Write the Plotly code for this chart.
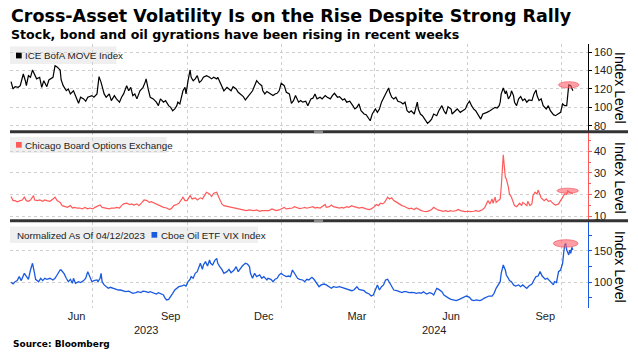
import pandas as pd
import plotly.graph_objects as go

# ---------------- data ----------------
start_date = "2023-04-12"   # day 0 = normalisation date

move_days = [0, 2, 4, 7, 9, 12, 14, 15, 17, 19, 21, 23, 25, 28, 30, 32, 35, 37, 41, 43, 45, 48, 49, 51, 54, 56, 58, 61, 63, 66,
             68, 71, 73, 75, 79, 81, 84, 86, 88, 91, 93, 96, 98, 101, 103, 106, 108, 110, 113, 115, 117, 119, 121, 123, 126, 129,
             131, 132, 134, 136, 139, 142, 144, 146, 149, 151, 154, 156, 158, 160, 162, 163, 165, 167, 168, 170, 171, 173, 175,
             176, 178, 180, 182, 184, 186, 188, 191, 194, 196, 198, 201, 202, 204, 206, 208, 211, 213, 215, 217, 220, 222, 224,
             227, 229, 232, 234, 236, 238, 240, 242, 243, 245, 246, 248, 250, 253, 256, 258, 260, 262, 264, 267, 269, 272, 274,
             276, 278, 281, 283, 285, 288, 290, 293, 295, 297, 299, 302, 304, 307, 309, 312, 314, 316, 319, 321, 324, 326, 328,
             331, 334, 336, 338, 340, 342, 345, 347, 349, 351, 353, 356, 358, 360, 362, 364, 366, 369, 370, 372, 374, 376, 378,
             381, 383, 385, 387, 389, 391, 394, 396, 397, 398, 400, 402, 404, 407, 409, 411, 413, 416, 418, 421, 423, 425, 427,
             430, 431, 434, 436, 439, 441, 444, 446, 448, 450, 452, 454, 457, 459, 461, 463, 465, 468, 471, 473, 475, 477, 478,
             479, 481, 483, 484, 486, 488, 489, 491, 492, 494, 496, 498, 500, 502, 504, 506, 509, 511, 513, 514, 516, 518, 520,
             523, 525, 527, 530, 532, 535, 537, 539, 541, 543, 544, 545, 547, 549]
move_vals = [128, 120, 122.5, 121.8, 123.6, 136.3, 129, 123.6, 134.5, 132.7, 140.7, 135.6, 131, 132.7, 121.8, 129, 122.5, 129.8,
             132.7, 145.4, 144, 140.7, 129.8, 123.6, 118.1, 120, 114.6, 118, 112.8, 104.4, 111, 109.2, 106.6, 111, 112.8, 111,
             114.6, 133.4, 127.2, 114.6, 111, 114.6, 107.3, 112.8, 109.2, 105.6, 111, 114.6, 123.6, 118, 121.8, 112.8, 114.6,
             109.2, 118, 121.8, 127.2, 130.9, 120, 111, 109.2, 105.6, 101.8, 109.2, 105.6, 107.3, 101.8, 100, 96.3, 98.2, 101.8,
             105.6, 103.7, 114.6, 118, 121.8, 114.6, 129, 140.7, 132.7, 129, 131, 134.5, 127.2, 129, 132.7, 134.5, 132.7, 131,
             132.7, 131, 132.7, 127.2, 121.8, 118, 121.8, 120, 118, 122.5, 120, 116.4, 114.6, 111.7, 108, 112.8, 114.6, 118,
             123.6, 129, 126.3, 125.4, 123.6, 118, 114.6, 117.3, 114.6, 112.8, 114.6, 115.3, 118, 126.3, 123.6, 116.4, 114.6,
             104.4, 107.3, 112.8, 105.6, 107.3, 105.6, 106.6, 101.8, 109.2, 110, 114.6, 109.2, 111, 109.2, 112.8, 111, 109.2,
             112.8, 115.3, 111, 111.7, 108, 109.2, 105.6, 106.6, 101.8, 98.2, 100, 103.7, 96.3, 92.7, 92, 89, 85.4, 92.7, 98.2,
             94.5, 98.2, 105.6, 111, 114.6, 121.1, 116.4, 111, 109.2, 111, 106.6, 105.6, 103.7, 105.6, 96.3, 94.5, 96.3, 92.7,
             101.8, 105.6, 98.2, 92.7, 90.9, 87.2, 82.5, 84.6, 87.2, 92.7, 90.9, 96.3, 101.8, 96.3, 92.7, 100.7, 98.2, 92.7, 96.3,
             98.2, 94.5, 96.3, 98.2, 103.7, 106.6, 101.8, 98.2, 96.3, 90.9, 87.2, 92.7, 93.4, 94.5, 96.3, 98.2, 100, 99.3, 101.8,
             105.6, 114.6, 121.1, 114.6, 118, 109.2, 112.8, 118, 112.8, 105.6, 101.8, 109.2, 111.7, 107.3, 109.2, 105.6, 108,
             107.3, 114.6, 118.9, 112.8, 107.3, 109.2, 101.8, 98.2, 101.8, 96.3, 92, 90.9, 92.7, 94.5, 103.7, 101.8, 101.8, 118,
             124.5, 123.6, 118]

vix_days = [0, 2, 4, 6, 9, 11, 13, 15, 17, 19, 22, 23, 26, 28, 31, 33, 35, 38, 41, 43, 45, 48, 50, 53, 55, 58, 60, 62, 65, 67,
            70, 72, 75, 77, 80, 82, 84, 87, 89, 91, 93, 96, 98, 101, 103, 106, 108, 110, 113, 116, 118, 120, 123, 125, 128, 130,
            133, 135, 137, 140, 142, 145, 147, 149, 152, 155, 157, 159, 162, 164, 167, 168, 170, 172, 175, 177, 180, 182, 185,
            187, 189, 191, 194, 196, 198, 201, 203, 206, 208, 211, 213, 215, 218, 220, 223, 225, 228, 230, 233, 235, 237, 240,
            243, 245, 247, 250, 252, 255, 257, 259, 262, 264, 267, 269, 273, 275, 277, 280, 282, 285, 287, 289, 292, 295, 297,
            299, 302, 304, 307, 308, 311, 313, 315, 318, 321, 323, 325, 328, 330, 333, 335, 338, 340, 343, 345, 347, 350, 352,
            355, 357, 359, 361, 363, 365, 368, 370, 372, 374, 377, 379, 382, 384, 386, 389, 391, 394, 396, 399, 401, 403, 406,
            409, 411, 413, 415, 417, 420, 422, 425, 427, 429, 432, 435, 437, 439, 442, 444, 447, 449, 452, 454, 457, 459, 461,
            463, 465, 466, 468, 470, 471, 473, 474, 476, 478, 479, 481, 483, 484, 486, 487, 489, 491, 492, 494, 496, 497, 499,
            500, 502, 504, 505, 507, 509, 510, 512, 514, 515, 517, 518, 521, 523, 525, 527, 530, 532, 535, 537, 539, 541, 543,
            544, 546, 548, 549]
vix_vals = [19.1, 17.2, 17.2, 16.7, 17.2, 17.5, 18.8, 17.2, 16.9, 17.5, 19.5, 17.5, 17.2, 17.5, 16.9, 17.5, 17.2, 16.9, 18.0,
            18.8, 17.2, 16.4, 14.9, 14.6, 14.1, 14.9, 13.8, 14.1, 13.7, 13.8, 13.4, 14.1, 13.4, 13.8, 13.4, 14.1, 14.6, 15.2,
            14.1, 13.8, 13.7, 13.4, 13.8, 13.7, 14.1, 13.8, 14.9, 15.7, 16.0, 15.4, 15.7, 15.2, 15.7, 14.9, 16.4, 17.5, 17.2,
            16.4, 16.7, 16.0, 15.4, 14.9, 14.6, 14.1, 13.8, 13.1, 13.7, 14.9, 15.4, 16.0, 18.0, 18.8, 17.2, 17.2, 19.5, 18.0,
            18.5, 17.5, 18.5, 18.0, 19.5, 21.1, 20.3, 19.1, 20.6, 21.1, 18.8, 15.7, 14.9, 14.6, 14.4, 14.1, 13.8, 13.7, 13.4,
            13.4, 12.9, 12.6, 12.9, 12.6, 12.6, 12.9, 12.3, 12.6, 12.6, 12.9, 12.6, 13.4, 12.9, 12.6, 12.9, 13.4, 14.1, 13.4,
            13.7, 13.8, 14.4, 13.8, 13.5, 13.8, 14.1, 13.7, 14.1, 14.4, 13.8, 14.1, 13.8, 14.6, 15.4, 14.1, 14.4, 15.2, 14.4,
            14.1, 13.8, 14.1, 13.8, 14.4, 14.1, 14.9, 14.4, 14.1, 13.8, 14.1, 13.7, 13.4, 13.1, 13.4, 14.4, 15.4, 14.9, 16.0,
            15.7, 16.4, 18.8, 18.0, 18.5, 17.2, 16.4, 15.7, 14.9, 14.6, 14.1, 13.4, 13.7, 13.1, 13.8, 12.9, 12.6, 12.3, 12.1,
            12.6, 13.1, 14.1, 13.4, 12.9, 12.6, 12.3, 12.6, 12.1, 12.6, 12.3, 12.6, 13.1, 12.6, 12.3, 12.1, 12.3, 12.1, 12.3,
            12.6, 12.3, 12.6, 13.1, 14.1, 16.4, 17.2, 15.7, 18.0, 16.0, 18.8, 16.4, 17.2, 18.0, 23.4, 38.4, 28.0, 27.2, 23.4,
            20.3, 18.8, 16.4, 14.9, 14.4, 15.7, 16.0, 14.9, 16.4, 15.7, 14.9, 16.9, 14.9, 15.7, 19.5, 21.1, 20.3, 22.1, 19.5,
            18.5, 17.2, 18.0, 16.9, 17.2, 15.7, 15.2, 15.7, 17.2, 18.8, 20.3, 20.0, 21.8, 21.1, 20.6, 20.3]

ovx_days = [0, 2, 4, 6, 8, 10, 13, 15, 17, 19, 21, 23, 24, 27, 29, 31, 33, 35, 38, 41, 43, 45, 48, 49, 52, 54, 56, 58, 60, 61,
            63, 66, 68, 71, 73, 75, 77, 79, 81, 84, 85, 87, 88, 89, 91, 93, 95, 97, 100, 102, 105, 107, 110, 112, 115, 117, 119,
            122, 124, 127, 129, 132, 134, 136, 139, 142, 144, 146, 149, 150, 152, 154, 156, 158, 160, 162, 164, 167, 169, 171,
            173, 175, 176, 178, 180, 182, 184, 185, 187, 188, 190, 192, 194, 195, 197, 199, 201, 202, 204, 206, 208, 211, 213,
            215, 218, 220, 222, 224, 226, 229, 231, 233, 234, 236, 238, 240, 243, 245, 247, 250, 251, 254, 256, 258, 260, 262,
            264, 266, 269, 271, 273, 275, 277, 280, 282, 285, 287, 289, 291, 294, 296, 299, 301, 303, 306, 308, 311, 313, 315,
            318, 321, 323, 325, 328, 330, 333, 335, 337, 338, 340, 343, 345, 347, 350, 352, 354, 356, 358, 360, 362, 364, 366,
            368, 370, 372, 374, 377, 379, 382, 384, 386, 389, 391, 394, 396, 399, 401, 403, 406, 409, 411, 413, 415, 416, 418,
            421, 423, 426, 428, 430, 433, 435, 438, 440, 443, 445, 448, 450, 452, 455, 458, 460, 462, 465, 467, 470, 472, 474,
            476, 478, 479, 481, 483, 484, 486, 487, 489, 491, 493, 496, 498, 500, 502, 504, 506, 509, 511, 513, 515, 517, 519,
            522, 524, 526, 528, 530, 531, 533, 535, 537, 539, 540, 541, 542, 543, 545, 546, 547, 548, 549]
ovx_vals = [100, 97.6, 101, 102.7, 109, 102.7, 114.3, 110, 104.8, 119.6, 130.3, 114.3, 104.8, 101, 106.4, 102.7, 106.4, 104.8,
            106.4, 103.7, 106.4, 111.7, 119.6, 119.6, 113.3, 106.4, 101, 104.8, 98.4, 106.4, 98.4, 101, 99.5, 102.7, 106.4, 117,
            109, 101, 102.7, 103.7, 101, 106.4, 114.3, 101, 95.8, 93, 90.4, 92, 90.4, 88.7, 87.7, 87.7, 86.6, 85, 86, 84, 82.4,
            83.5, 85, 83.5, 86, 85, 83.5, 85, 83.5, 81.3, 83.5, 82.4, 79.7, 76, 71.8, 72.8, 77, 82.4, 87.7, 90.4, 93, 94.1, 95.8,
            94.1, 101, 104.8, 109, 106.4, 114.3, 117, 125, 130.3, 120.7, 127.6, 133, 126, 135.6, 130.3, 127.6, 134.6, 138.2,
            130.3, 125, 120.7, 114.3, 117, 120.7, 115.4, 119.6, 125, 117, 122.3, 126, 130.3, 129.2, 125, 114.3, 106.4, 114.3,
            109, 111.7, 106.4, 109, 103.7, 106.4, 104.8, 101, 104.8, 106.4, 111.7, 114.3, 111.7, 109, 110, 109, 119.6, 114.3,
            106.4, 104.8, 103.7, 101, 104.8, 103.7, 108, 104.8, 98.4, 93, 95.8, 97.2, 95.8, 93, 90.4, 93, 92, 93, 92, 90.4, 88.7,
            87.7, 86.6, 87.7, 90.4, 93, 88.7, 87.7, 86.6, 83.5, 81.3, 78.1, 79.7, 87.7, 95.8, 87.7, 93, 95.8, 103.7, 104.8, 98.4,
            93, 87.7, 86.6, 85, 83.5, 85, 85, 83.5, 84, 83.5, 82.4, 83.5, 82.4, 85, 81.3, 83.5, 82.4, 79.7, 87.7, 90.4, 88.7, 85,
            79.7, 76, 74.4, 72.8, 71.8, 70.7, 72.8, 74.4, 76, 78.1, 76, 71.8, 70.7, 71.8, 70.7, 71.8, 74.4, 77, 78.1, 78.1, 82.4,
            90.4, 95.8, 101, 114.3, 127.6, 119.6, 111.7, 106.4, 102.7, 101, 95.8, 94.1, 95.8, 93, 95.8, 93, 90.4, 94.1, 97.2,
            103.7, 109, 110, 117, 110, 104.8, 106.4, 103.7, 99.5, 95.8, 101, 99.5, 117, 119.6, 130.3, 146.3, 159.6, 162, 151.5,
            143.6, 151.5, 146.3, 155.9, 151.5]

month_ticks = ["2023-06-15", "2023-09-15", "2023-12-15", "2024-03-15", "2024-06-15", "2024-09-15"]
month_labels = ["Jun", "Sep", "Dec", "Mar", "Jun", "Sep"]
quarter_lines = ["2023-07-01", "2023-10-01", "2024-01-01", "2024-04-01", "2024-07-01", "2024-10-01"]
year_labels = ["2023", "2024"]

move_ticks = [80, 100, 120, 140, 160]
vix_ticks = [10, 20, 30, 40]
ovx_ticks = [100, 150]

title = "Cross-Asset Volatility Is on the Rise Despite Strong Rally"
subtitle = "Stock, bond and oil gyrations have been rising in recent weeks"
source = "Source: Bloomberg"

# ---------------- helpers ----------------
W, H = 638, 357
def px(v):
    return v / W
def py(v):
    return 1 - v / H

t0 = pd.Timestamp(start_date)
def to_dates(days):
    return [t0 + pd.Timedelta(days=d) for d in days]

x_range = [pd.Timestamp("2023-04-11"), pd.Timestamp("2024-10-26 12:00")]
x_dom = [px(10), px(587.7)]

BLACK = "#000000"
RED = "#ff5a5a"
BLUE = "#1a5ae0"
GRID = "#cfcfcf"
TXT = "#222222"
FONT = "Liberation Sans"

fig = go.Figure()
fig.add_trace(go.Scatter(x=to_dates(move_days), y=move_vals, mode="lines",
                         line=dict(color=BLACK, width=1.2), xaxis="x", yaxis="y", showlegend=False))
fig.add_trace(go.Scatter(x=to_dates(vix_days), y=vix_vals, mode="lines",
                         line=dict(color=RED, width=1.2), xaxis="x2", yaxis="y2", showlegend=False))
fig.add_trace(go.Scatter(x=to_dates(ovx_days), y=ovx_vals, mode="lines",
                         line=dict(color=BLUE, width=1.3), xaxis="x3", yaxis="y3", showlegend=False))

def xaxis(anchor, labels):
    d = dict(domain=x_dom, range=x_range, anchor=anchor, type="date",
             tickmode="array", tickvals=month_ticks, ticktext=month_labels,
             showticklabels=labels, ticks="", showgrid=False, zeroline=False, showline=False,
             tickfont=dict(family=FONT, size=11, color=TXT),
             minor=dict(tickmode="array", tickvals=quarter_lines, showgrid=True,
                        gridcolor=GRID, griddash="dot", gridwidth=1, ticks=""))
    if anchor != "y":
        d["matches"] = "x"
    return d

def yaxis(anchor, dom, rng, ticks, color, minor=None):
    d = dict(domain=dom, range=rng, anchor=anchor, side="right",
             tickmode="array", tickvals=ticks, showgrid=True, gridcolor=GRID, griddash="dot",
             zeroline=False, showline=True, linecolor=color, linewidth=1,
             ticks="outside", ticklen=3, tickcolor=color,
             tickfont=dict(family=FONT, size=11, color=TXT))
    if minor:
        d["minor"] = minor
    return d

fig.update_layout(
    width=W, height=H, autosize=False,
    margin=dict(l=0, r=0, t=0, b=0),
    paper_bgcolor="white", plot_bgcolor="white",
    xaxis=xaxis("y", False),
    xaxis2=xaxis("y2", False),
    xaxis3=xaxis("y3", True),
    yaxis=yaxis("x", [py(131), py(44)], [74.2, 169.0], move_ticks, BLACK),
    yaxis2=yaxis("x2", [py(221), py(132)], [7.8, 48.9], vix_ticks, RED,
                 minor=dict(dtick=5, tick0=0, ticks="outside", ticklen=2, tickcolor=RED, showgrid=False)),
    yaxis3=yaxis("x3", [py(308), py(222)], [59.0, 196.2], ovx_ticks, BLUE,
                 minor=dict(dtick=25, tick0=0, ticks="outside", ticklen=3, tickcolor=BLUE, showgrid=False)),
)

shapes = []
# thick separators between panels
for yy in (131.7, 220.7):
    shapes.append(dict(type="line", xref="paper", yref="paper", x0=px(10), x1=px(628), y0=py(yy), y1=py(yy),
                       line=dict(color="#333333", width=3)))
    shapes.append(dict(type="line", xref="paper", yref="paper", x0=px(314), x1=px(323), y0=py(yy), y1=py(yy),
                       line=dict(color="#8a8a8a", width=3)))

# legend boxes
legend_boxes = [(46.5, 64, 116.5), (137, 153, 166.7), (226.5, 243, 258)]
for (y0, y1, x1) in legend_boxes:
    shapes.append(dict(type="rect", xref="paper", yref="paper", x0=px(10), x1=px(x1), y0=py(y1), y1=py(y0),
                       fillcolor="#efefef", line=dict(width=0), layer="below"))
squares = [(16, 52.7, BLACK), (16, 142, RED), (151.5, 232, BLUE)]
for (sx, sy, c) in squares:
    shapes.append(dict(type="rect", xref="paper", yref="paper", x0=px(sx), x1=px(sx + 5.7), y0=py(sy + 5.7), y1=py(sy),
                       fillcolor=c, line=dict(width=0)))

# highlight ellipses around the latest peak of each series
def peak(days, vals, window=12):
    last = days[-1]
    cand = [(v, d) for d, v in zip(days, vals) if d >= last - window]
    v, d = max(cand)
    return d, v

for (days, vals, xa, ya, half_d, half_v) in [(move_days, move_vals, "x", "y", 10, 3.4),
                                            (vix_days, vix_vals, "x2", "y2", 10.5, 1.15),
                                            (ovx_days, ovx_vals, "x3", "y3", 12, 6.0)]:
    d, v = peak(days, vals)
    c = t0 + pd.Timedelta(days=d)
    shapes.append(dict(type="circle", xref=xa, yref=ya,
                       x0=c - pd.Timedelta(days=half_d), x1=c + pd.Timedelta(days=half_d),
                       y0=v - half_v, y1=v + half_v,
                       fillcolor="rgba(255,95,105,0.6)", line=dict(color="rgba(235,80,90,0.8)", width=0.8)))

fig.update_layout(shapes=shapes)

ann = []
ann.append(dict(text="<b>" + title + "</b>", x=px(9), y=py(16), xref="paper", yref="paper",
                xanchor="left", yanchor="middle", showarrow=False,
                font=dict(family="DejaVu Sans", size=17.5, color="black")))
ann.append(dict(text="<b>" + subtitle + "</b>", x=px(9), y=py(34), xref="paper", yref="paper",
                xanchor="left", yanchor="middle", showarrow=False,
                font=dict(family="DejaVu Sans", size=12.6, color="black")))
ann.append(dict(text="<b>" + source + "</b>", x=px(11), y=py(343.5), xref="paper", yref="paper",
                xanchor="left", yanchor="middle", showarrow=False,
                font=dict(family="DejaVu Sans", size=9, color="black")))

legend_texts = [("ICE BofA MOVE Index", 23, 55.5), ("Chicago Board Options Exchange", 23, 145),
                ("Normalized As Of 04/12/2023", 14.5, 235), ("Cboe Oil ETF VIX Index", 158.5, 235)]
for (t, lx, ly) in legend_texts:
    ann.append(dict(text=t, x=px(lx), y=py(ly), xref="paper", yref="paper", xanchor="left", yanchor="middle",
                    showarrow=False, font=dict(family=FONT, size=9.8, color=TXT)))

for yy in (88, 178, 267):
    ann.append(dict(text="Index Level", x=px(620), y=py(yy), xref="paper", yref="paper",
                    xanchor="center", yanchor="middle", textangle=90, showarrow=False,
                    font=dict(family=FONT, size=14, color="black")))

# year labels centred under the visible part of each year
for yl in year_labels:
    a = max(pd.Timestamp(yl + "-01-01"), x_range[0])
    b = min(pd.Timestamp(str(int(yl) + 1) + "-01-01"), x_range[1])
    mid = a + (b - a) / 2
    ann.append(dict(text=yl, x=mid, y=py(329.5), xref="x3", yref="paper", xanchor="center", yanchor="middle",
                    showarrow=False, font=dict(family=FONT, size=11, color=TXT)))

fig.update_layout(annotations=ann)
# the page's default 8px body margin would shift the whole figure; remove it, and hide the mode bar
fig.write_html("out.html", config={"displayModeBar": False},
               post_script="document.body.style.margin='0px';")
